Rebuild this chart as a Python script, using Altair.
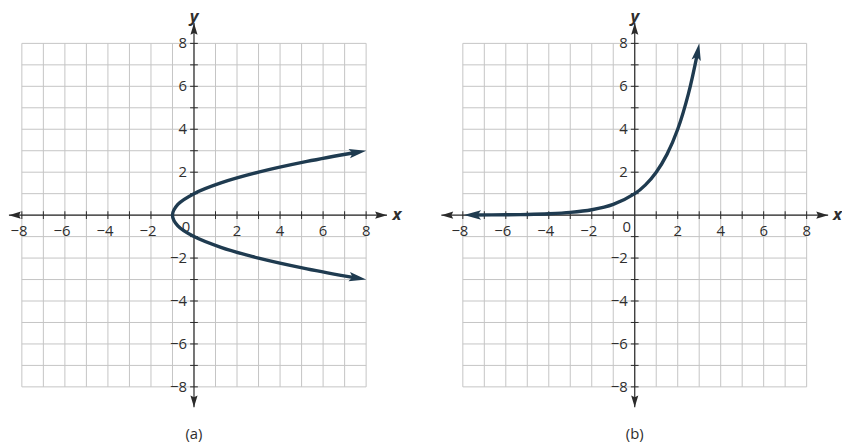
import altair as alt
import pandas as pd

# ---------------- data ----------------
grid_values = list(range(-8, 9))
tick_values = [-8, -7, -6, -5, -4, -3, -2, -1, 1, 2, 3, 4, 5, 6, 7, 8]
label_values = [-8, -6, -4, -2, 2, 4, 6, 8]
label_texts = ["−8", "−6", "−4", "−2", "2", "4", "6", "8"]

# panel (a): sideways parabola
a_curve_y = [-2.93, -2.5, -2.0, -1.5, -1.0, -0.5, 0.0, 0.5, 1.0, 1.5, 2.0, 2.5, 2.93]
a_curve_x = [7.55, 5.25, 3.0, 1.25, 0.0, -0.75, -1.0, -0.75, 0.0, 1.25, 3.0, 5.25, 7.55]
a_arrow_x = [8.0, 8.0]
a_arrow_y = [3.0, -3.0]
a_arrow_angle = [350.5, 9.5]

# panel (b): exponential curve
b_curve_x = [-7.5, -6.0, -5.0, -4.0, -3.0, -2.0, -1.0, 0.0, 0.5, 1.0, 1.5, 2.0, 2.5, 2.92]
b_curve_y = [0.006, 0.016, 0.031, 0.063, 0.125, 0.25, 0.5, 1.0, 1.41, 2.0, 2.83, 4.0, 5.66, 7.55]
b_arrow_x = [-7.95, 3.0]
b_arrow_y = [0.004, 8.0]
b_arrow_angle = [180.0, 280.2]

# ---------------- styling / layout ----------------
GRID = "#c4c4c4"
AXIS = "#2b2b2b"
TXT = "#2e2e2e"
CURVE = "#1f3b50"
FONT = "Open Sans"

AX_ARROW = "M0,0L-2,-0.6L-1.7,0L-2,0.6Z"
CV_ARROW = "M0,0L-2,-0.55L-1.6,0L-2,0.55Z"

PX_Y = 21.7
ORIGIN_Y = 215.0
TOP, BOTTOM = 8.0, 446.0
YDOM = [(ORIGIN_Y - BOTTOM) / PX_Y, (ORIGIN_Y - TOP) / PX_Y]
HEIGHT = int(BOTTOM - TOP)


def panel(cx, cy, ax, ay, aang, left, right, ox, pxx, axis_x, name):
    width = int(right - left)
    xdom = [(left - ox) / pxx, (right - ox) / pxx]
    xs = alt.Scale(domain=xdom, nice=False, zero=False)
    ys = alt.Scale(domain=YDOM, nice=False, zero=False)

    def X(f):
        return alt.X(f, type="quantitative", scale=xs, axis=None)

    def Y(f):
        return alt.Y(f, type="quantitative", scale=ys, axis=None)

    grid = pd.DataFrame({"v": grid_values, "lo": -8, "hi": 8})
    vgrid = alt.Chart(grid).mark_rule(color=GRID, strokeWidth=1).encode(
        x=X("v"), y=Y("lo"), y2=alt.Y2("hi"))
    hgrid = alt.Chart(grid).mark_rule(color=GRID, strokeWidth=1).encode(
        y=Y("v"), x=X("lo"), x2=alt.X2("hi"))

    xaxis_df = pd.DataFrame({"x1": [axis_x[0]], "x2": [axis_x[1]], "y": [0.0]})
    yaxis_df = pd.DataFrame({"y1": [-8.95], "y2": [8.95], "x": [0.0]})
    xaxis = alt.Chart(xaxis_df).mark_rule(color=AXIS, strokeWidth=1.2).encode(
        x=X("x1"), x2=alt.X2("x2"), y=Y("y"))
    yaxis = alt.Chart(yaxis_df).mark_rule(color=AXIS, strokeWidth=1.2).encode(
        y=Y("y1"), y2=alt.Y2("y2"), x=X("x"))

    ticks = pd.DataFrame({"v": tick_values, "lo": -0.18, "hi": 0.18})
    xticks = alt.Chart(ticks).mark_rule(color=AXIS, strokeWidth=1).encode(
        x=X("v"), y=Y("lo"), y2=alt.Y2("hi"))
    yticks = alt.Chart(ticks).mark_rule(color=AXIS, strokeWidth=1).encode(
        y=Y("v"), x=X("lo"), x2=alt.X2("hi"))

    ax_arrows = pd.DataFrame({
        "x": [axis_x[0], axis_x[1], 0.0, 0.0],
        "y": [0.0, 0.0, 8.95, -8.95],
        "a": [180.0, 0.0, 270.0, 90.0],
    })
    ax_heads = alt.Chart(ax_arrows).mark_point(
        shape=AX_ARROW, filled=True, size=144, color=AXIS, opacity=1, strokeWidth=0
    ).encode(x=X("x"), y=Y("y"), angle=alt.Angle("a", scale=None))

    labels = pd.DataFrame({"v": label_values, "t": label_texts, "z": 0.0})
    neg = labels[labels["v"] < 0]
    pos = labels[labels["v"] > 0]
    tstyle = dict(font=FONT, fontSize=15, color=TXT)
    xl_neg = alt.Chart(neg).mark_text(baseline="middle", align="center", dy=16, dx=-3, **tstyle).encode(
        x=X("v"), y=Y("z"), text="t")
    xl_pos = alt.Chart(pos).mark_text(baseline="middle", align="center", dy=16, **tstyle).encode(
        x=X("v"), y=Y("z"), text="t")
    yl = alt.Chart(labels).mark_text(baseline="middle", align="right", dx=-7, **tstyle).encode(
        y=Y("v"), x=X("z"), text="t")
    zero = alt.Chart(pd.DataFrame({"x": [0.0], "y": [0.0], "t": ["0"]})).mark_text(
        baseline="middle", align="center", dx=-8, dy=12, **tstyle).encode(
        x=X("x"), y=Y("y"), text="t")

    titles = pd.DataFrame({"x": [9.43, 0.0], "y": [0.0, (ORIGIN_Y - 20.0) / PX_Y], "t": ["x", "y"]})
    xt = alt.Chart(titles.iloc[[0]]).mark_text(
        font=FONT, fontSize=17, fontWeight="bold", fontStyle="italic", color=TXT,
        baseline="middle", align="center", clip=True).encode(x=X("x"), y=Y("y"), text="t")
    yt = alt.Chart(titles.iloc[[1]]).mark_text(
        font=FONT, fontSize=17, fontWeight="bold", fontStyle="italic", color=TXT,
        baseline="alphabetic", align="center", clip=True).encode(x=X("x"), y=Y("y"), text="t")

    curve_df = pd.DataFrame({"x": cx, "y": cy, "i": list(range(len(cx)))})
    curve = alt.Chart(curve_df).mark_line(
        color=CURVE, strokeWidth=3.4, interpolate="catmull-rom").encode(
        x=X("x"), y=Y("y"), order="i")

    arrows_df = pd.DataFrame({"x": ax, "y": ay, "a": aang})
    heads = alt.Chart(arrows_df).mark_point(
        shape=CV_ARROW, filled=True, size=300, color=CURVE, opacity=1, strokeWidth=0
    ).encode(x=X("x"), y=Y("y"), angle=alt.Angle("a", scale=None))

    cap_df = pd.DataFrame({"x": [0.0], "y": [(ORIGIN_Y - 436.0) / PX_Y], "t": [name]})
    cap = alt.Chart(cap_df).mark_text(
        font=FONT, fontSize=15, color=TXT, baseline="middle", align="center", clip=True
    ).encode(x=X("x"), y=Y("y"), text="t")

    return alt.layer(vgrid, hgrid, xaxis, yaxis, xticks, yticks, ax_heads,
                     xl_neg, xl_pos, yl, zero, xt, yt, curve, heads, cap).properties(
        width=width, height=HEIGHT)


pa = panel(a_curve_x, a_curve_y, a_arrow_x, a_arrow_y, a_arrow_angle,
           left=8.0, right=420.0, ox=195.0, pxx=21.75, axis_x=[-8.6, 8.97], name="(a)")
pb = panel(b_curve_x, b_curve_y, b_arrow_x, b_arrow_y, b_arrow_angle,
           left=420.0, right=850.0, ox=640.5, pxx=21.72, axis_x=[-9.0, 9.0], name="(b)")

chart = alt.hconcat(pa, pb, spacing=0, bounds="flush").properties(
    padding=0).configure_view(stroke=None)

chart.save("out.html", embed_options={"renderer": "svg", "actions": False})
